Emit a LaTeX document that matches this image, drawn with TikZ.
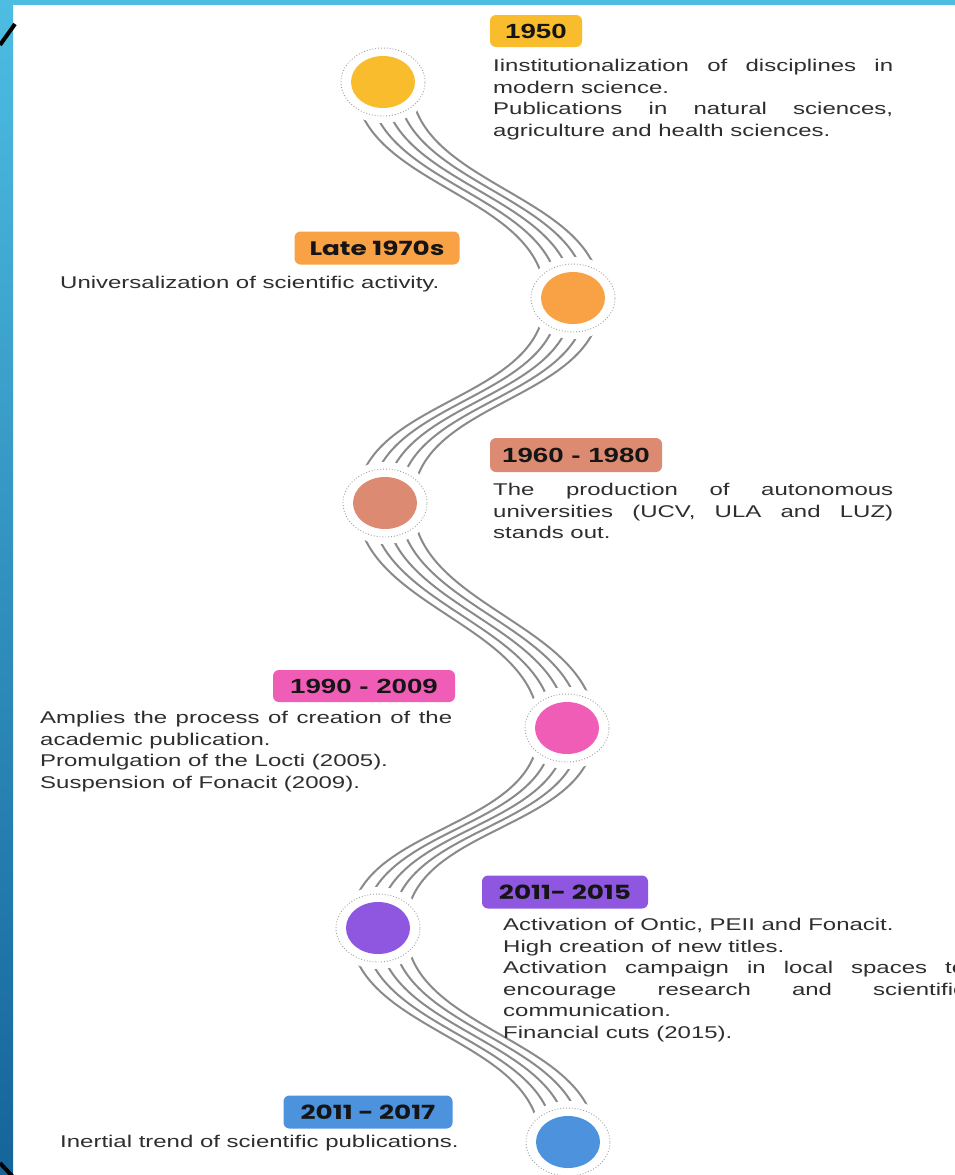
\documentclass[tikz,border=0pt]{standalone}
\usepackage{fontspec}
\setmainfont{Liberation Sans}[FakeStretch=1.41]
\newfontfamily\tagfont{Liberation Sans}[FakeStretch=1.35]
\newfontfamily\popfont{Poppins}[FakeStretch=1.35]
\usetikzlibrary{calc,shapes.geometric}

\definecolor{yel}{HTML}{F9BC2D}
\definecolor{ora}{HTML}{F8A145}
\definecolor{sal}{HTML}{DC8A72}
\definecolor{pnk}{HTML}{EF5DB6}
\definecolor{pur}{HTML}{8F57E0}
\definecolor{blu}{HTML}{4C92DC}
\definecolor{bodygray}{HTML}{2E2E2E}
\definecolor{tagblack}{HTML}{151515}
\definecolor{wavegray}{HTML}{8A8A8A}
\definecolor{bandtop}{HTML}{4DBDE2}
\definecolor{bandbot}{HTML}{15649A}

\tolerance=10000
\hyphenpenalty=10000
\hbadness=10000

\begin{document}
\begin{tikzpicture}[x=1pt,y=-1pt,
    wave/.style={draw=wavegray, line width=2pt},
    eraser/.style={ellipse, fill=white, minimum width=96pt, minimum height=82pt, inner sep=0pt},
    ring/.style={ellipse, draw=gray!75, dotted, line width=0.9pt, minimum width=84pt, minimum height=68pt, inner sep=0pt},
    dot/.style={ellipse, minimum width=64pt, minimum height=52pt, inner sep=0pt},
    tag/.style={rounded corners=6pt, inner sep=0pt, text=tagblack, align=center},
    tagA/.style={tag, font=\tagfont\bfseries\fontsize{20.5}{24}\selectfont},
    tagB/.style={tag, font=\popfont\bfseries\fontsize{19.5}{24}\selectfont},
    body/.style={text=bodygray, font=\fontsize{17}{21.5}\selectfont, inner sep=0pt, align=justify}]

\useasboundingbox (0,0) rectangle (955,1175);
\fill[white] (0,0) rectangle (955,1175);

% frame
\shade[top color=bandtop, bottom color=bandbot] (0,0) rectangle (13,1175);
\fill[bandtop] (0,0) rectangle (955,5);
\draw[line width=4pt] (0,45) -- (15,24);
\draw[line width=4pt] (0,1163) -- (14,1178);

% stops of the timeline
\coordinate (p1) at (383,82);
\coordinate (p2) at (573,298);
\coordinate (p3) at (385,503);
\coordinate (p4) at (567,728);
\coordinate (p5) at (378,928);
\coordinate (p6) at (568,1142);

% wavy bands
\foreach \pa/\pb in {p1/p2,p2/p3,p3/p4,p4/p5,p5/p6}
  \foreach \i in {-2,...,2}
    \draw[wave] ($(\pa)+(\i*14,0)$) .. controls ($(\pa)+(\i*14,105)$) and ($(\pb)+(\i*14,-105)$) .. ($(\pb)+(\i*14,0)$);

% circles
\foreach \n/\c in {1/yel,2/ora,3/sal,4/pnk,5/pur,6/blu}{
  \node[eraser] (e\n) at (p\n) {};
  \node[ring] (r\n) at (p\n) {};
  \node[dot, fill=\c] (c\n) at (p\n) {};
}

% labels
\node[tagA, fill=yel, minimum width=92pt, minimum height=32pt] (t1) at (536,31) {1950};
\node[tagB, fill=ora, minimum width=165pt, minimum height=33pt] (t2) at (377,248) {Late 1970s};
\node[tagA, fill=sal, minimum width=172pt, minimum height=34pt] (t3) at (576,455) {1960 - 1980};
\node[tagA, fill=pnk, minimum width=182pt, minimum height=32pt] (t4) at (364,686) {1990 - 2009};
\node[tagB, fill=pur, minimum width=166pt, minimum height=33pt] (t5) at (565,892) {2011- 2015};
\node[tagB, fill=blu, minimum width=169pt, minimum height=33pt] (t6) at (368,1112) {2011 - 2017};

% texts
\node[body, text width=400pt, anchor=north west] (b1) at (493,59)
  {Iinstitutionalization of disciplines in\linebreak modern science.\\
   Publications in natural sciences,\linebreak agriculture and health sciences.};
\node[body, anchor=base west] (b2) at (60,288) {Universalization of scientific activity.};
\node[body, text width=400pt, anchor=north west] (b3) at (493,483)
  {The production of autonomous\linebreak universities (UCV, ULA and LUZ)\linebreak stands out.};
\node[body, text width=412pt, anchor=north west] (b4) at (40,711)
  {Amplies the process of creation of the\linebreak academic publication.\\
   Promulgation of the Locti (2005).\\
   Suspension of Fonacit (2009).};
\node[body, text width=462pt, anchor=north west] (b5) at (503,918)
  {Activation of Ontic, PEII and Fonacit.\\
   High creation of new titles.\\
   Activation campaign in local spaces to\linebreak encourage research and scientific\linebreak communication.\\
   Financial cuts (2015).};
\node[body, anchor=base west] (b6) at (60,1147) {Inertial trend of scientific publications.};

\end{tikzpicture}
\end{document}
